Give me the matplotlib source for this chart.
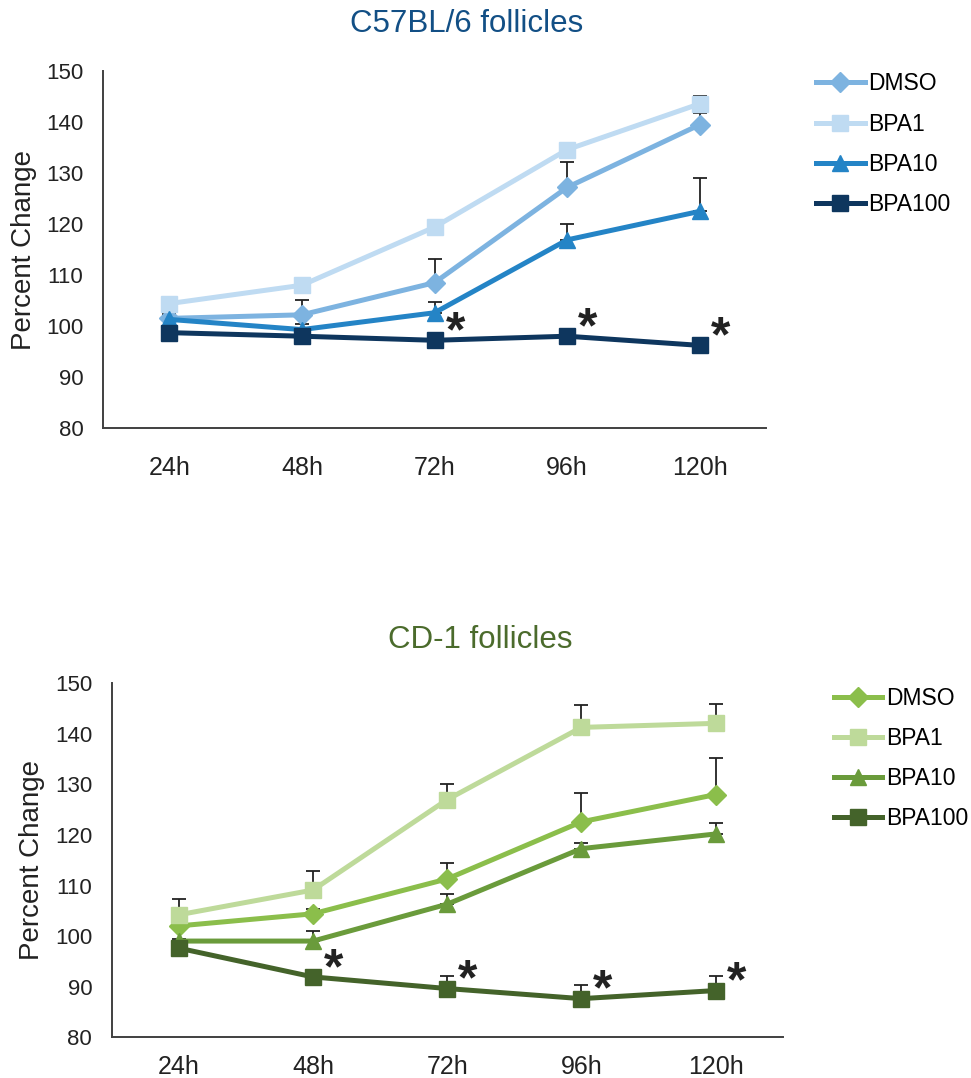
import numpy as np
import matplotlib
matplotlib.use("Agg")
import matplotlib.pyplot as plt

plt.rcParams["font.family"] = ["Liberation Sans", "DejaVu Sans"]

# ── data ─────────────────────────────────────────────────────────────────────
timepoints = ["24h", "48h", "72h", "96h", "120h"]
groups = ["DMSO", "BPA1", "BPA10", "BPA100"]

# C57BL/6 follicles
b6_dmso   = [101.5, 102.2, 108.5, 127.2, 139.5]
b6_bpa1   = [104.4, 108.0, 119.4, 134.6, 143.6]
b6_bpa10  = [101.3, 99.3, 102.6, 116.9, 122.5]
b6_bpa100 = [98.7, 98.0, 97.2, 98.0, 96.2]
b6_dmso_err   = [0.8, 3.0, 4.7, 4.9, 2.3]
b6_bpa1_err   = [0.5, 0.5, 0.5, 0.5, 1.5]
b6_bpa10_err  = [0.8, 1.0, 2.2, 3.1, 6.6]
b6_bpa100_err = [0.5, 0.5, 0.5, 0.5, 0.5]
b6_sig = [False, False, True, True, True]

# CD-1 follicles
cd1_dmso   = [102.0, 104.4, 111.3, 122.6, 128.0]
cd1_bpa1   = [104.2, 109.1, 127.0, 141.3, 142.1]
cd1_bpa10  = [99.0, 99.0, 106.3, 117.3, 120.2]
cd1_bpa100 = [97.6, 91.9, 89.6, 87.6, 89.2]
cd1_dmso_err   = [0.5, 1.0, 3.2, 5.8, 7.3]
cd1_bpa1_err   = [3.1, 3.8, 3.0, 4.5, 3.9]
cd1_bpa10_err  = [0.5, 2.0, 2.0, 1.2, 2.2]
cd1_bpa100_err = [1.5, 0.5, 2.5, 2.8, 2.9]
cd1_sig = [False, True, True, True, True]

markers = ["D", "s", "^", "s"]
marker_sizes = [10, 12, 12, 12]
blues  = ["#7DB3E0", "#BFDBF2", "#2484C6", "#0E365E"]
greens = ["#8BBE4B", "#BEDA9A", "#6A9B3B", "#44632A"]


def draw_panel(ax, series, errs, sig, colors, title, title_color, title_xy,
               legend_anchor, xpad):
    x = np.arange(len(timepoints))
    for name, vals, err, col, mk, ms in zip(groups, series, errs, colors, markers, marker_sizes):
        ax.errorbar(x, vals, yerr=[np.zeros(len(err)), err], fmt="none",
                    ecolor="#222222", elinewidth=1.3, capsize=5, capthick=1.3, zorder=2)
        ax.plot(x, vals, color=col, lw=3.6, marker=mk, ms=ms, label=name, zorder=3)

    # significance stars next to BPA100 points
    last = series[-1]
    for i, s in enumerate(sig):
        if s:
            ax.annotate("*", xy=(x[i], last[i]), xytext=(15, 5), textcoords="offset points",
                        fontsize=36, fontweight="bold", color="#222222", ha="center", va="center")

    ax.set_xlim(-0.5, len(timepoints) - 0.5)
    ax.set_ylim(80, 150)
    ax.set_yticks(np.arange(80, 151, 10))
    ax.set_xticks(x)
    ax.set_xticklabels(timepoints)
    ax.tick_params(length=0, colors="#222222")
    ax.tick_params(axis="x", labelsize=18, pad=xpad)
    ax.tick_params(axis="y", labelsize=16, pad=14)
    for side in ["top", "right"]:
        ax.spines[side].set_visible(False)
    for side in ["left", "bottom"]:
        ax.spines[side].set_color("#404040")
        ax.spines[side].set_linewidth(1.4)
    ax.set_ylabel("Percent Change", fontsize=20, color="#222222")
    ax.yaxis.set_label_coords(-0.10, 0.5)
    fig.text(title_xy[0], title_xy[1], title, fontsize=22.5, color=title_color,
             ha="center", va="center")
    ax.legend(loc="upper left", bbox_to_anchor=legend_anchor, frameon=False,
              fontsize=16.5, handlelength=2.1, handletextpad=0.15, labelspacing=0.75,
              borderaxespad=0)


fig = plt.figure(figsize=(9.71, 10.78), dpi=100)
ax1 = fig.add_axes([0.106, 0.603, 0.683, 0.331])
ax2 = fig.add_axes([0.115, 0.038, 0.691, 0.328])

draw_panel(ax1, [b6_dmso, b6_bpa1, b6_bpa10, b6_bpa100],
           [b6_dmso_err, b6_bpa1_err, b6_bpa10_err, b6_bpa100_err],
           b6_sig, blues, "C57BL/6 follicles", "#124F85", (467 / 971, 1 - 24 / 1078),
           (1.062, 1.022), 20)
draw_panel(ax2, [cd1_dmso, cd1_bpa1, cd1_bpa10, cd1_bpa100],
           [cd1_dmso_err, cd1_bpa1_err, cd1_bpa10_err, cd1_bpa100_err],
           cd1_sig, greens, "CD-1 follicles", "#4B6B2C", (480 / 971, 1 - 640 / 1078),
           (1.063, 1.017), 13)

fig.savefig("out.png", dpi=100)
